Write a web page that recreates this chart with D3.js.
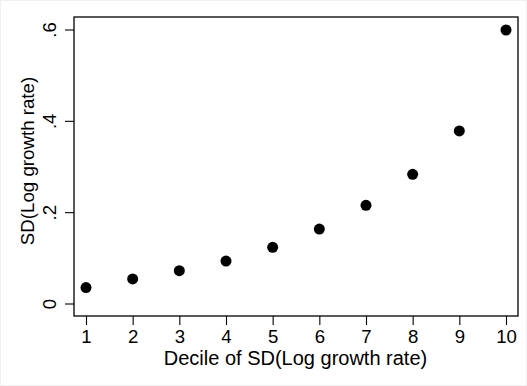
<!DOCTYPE html>
<html>
<head>
<meta charset="utf-8">
<script src="https://cdn.jsdelivr.net/npm/d3@7"></script>
<style>
  body { margin: 0; background: #fff; }
  text { font-family: "Liberation Sans", Arial, sans-serif; fill: #000; }
</style>
</head>
<body>
<div class="container"></div>
<script>
const deciles = [1, 2, 3, 4, 5, 6, 7, 8, 9, 10];
const sdValues = [0.036, 0.055, 0.073, 0.094, 0.124, 0.164, 0.216, 0.284, 0.379, 0.600];
const yTicks = [0, 0.2, 0.4, 0.6];
const yTickLabels = ['0', '.2', '.4', '.6'];

const w = 527, h = 386;
const box = { left: 74, right: 518, top: 17, bottom: 316 };

const svg = d3.select('.container')
  .append('svg')
  .attr('width', w)
  .attr('height', h);

svg.append('rect')
  .attr('x', 0.5).attr('y', 0.5)
  .attr('width', w - 1).attr('height', h - 1)
  .attr('fill', '#fff')
  .attr('stroke', '#f0f0f0');

const xScale = d3.scaleLinear().domain([1, 10]).range([86, 506]);
const yScale = d3.scaleLinear().domain([0, 0.6]).range([304, 30]);

// plot frame
svg.append('rect')
  .attr('x', box.left).attr('y', box.top)
  .attr('width', box.right - box.left)
  .attr('height', box.bottom - box.top)
  .attr('fill', '#fff')
  .attr('stroke', '#000')
  .attr('stroke-width', 1.3);

const xAxis = d3.axisBottom(xScale)
  .tickValues(deciles)
  .tickSize(9)
  .tickSizeOuter(0);

const yAxis = d3.axisLeft(yScale)
  .tickValues(yTicks)
  .tickFormat((d, i) => yTickLabels[i])
  .tickSize(9)
  .tickSizeOuter(0);

const gx = svg.append('g')
  .attr('transform', `translate(0, ${box.bottom})`)
  .call(xAxis);
gx.select('.domain').remove();
gx.selectAll('line').attr('stroke', '#000').attr('stroke-width', 1.1);
gx.selectAll('text')
  .style('font-size', '18.6px')
  .attr('fill', '#000')
  .attr('dy', null)
  .attr('y', 26.5);

const gy = svg.append('g')
  .attr('transform', `translate(${box.left}, 0)`)
  .call(yAxis);
gy.select('.domain').remove();
gy.selectAll('line').attr('stroke', '#000').attr('stroke-width', 1.1);
gy.selectAll('.tick').attr('transform', null);
gy.selectAll('.tick line').attr('transform', d => `translate(0, ${yScale(d)})`);
gy.selectAll('text')
  .style('font-size', '18.6px')
  .attr('fill', '#000')
  .attr('text-anchor', 'middle')
  .attr('dy', null)
  .attr('x', null)
  .attr('y', 0)
  .attr('transform', d => `translate(${56 - box.left}, ${yScale(d)}) rotate(-90)`);

svg.append('text')
  .attr('x', 295.5)
  .attr('y', 365)
  .attr('text-anchor', 'middle')
  .style('font-size', '20px')
  .text('Decile of SD(Log growth rate)');

svg.append('text')
  .attr('transform', `translate(34, 161) rotate(-90)`)
  .attr('text-anchor', 'middle')
  .style('font-size', '18.7px')
  .text('SD(Log growth rate)');

svg.selectAll('circle')
  .data(deciles)
  .enter()
  .append('circle')
  .attr('cx', d => xScale(d))
  .attr('cy', (d, i) => yScale(sdValues[i]))
  .attr('r', 5.5)
  .attr('fill', '#000');
</script>
</body>
</html>
